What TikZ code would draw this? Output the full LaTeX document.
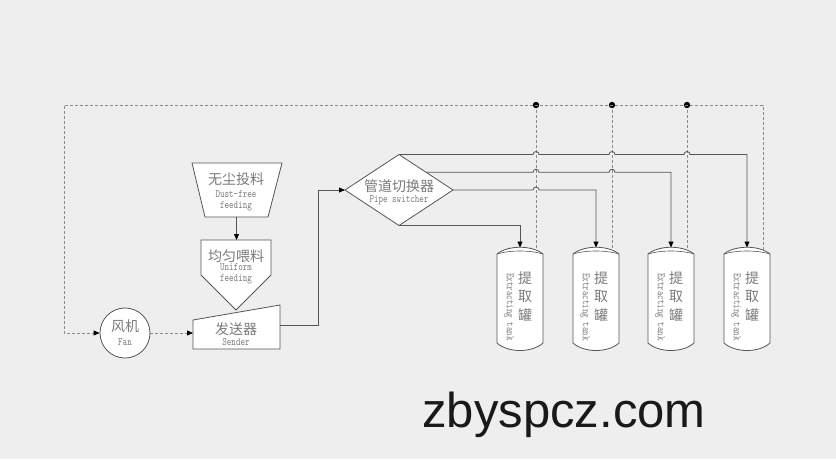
\documentclass[tikz,border=0pt]{standalone}
\usepackage{fontspec}
\usepackage{graphicx}
\newfontfamily\cjk{Noto Sans CJK SC}
\newfontfamily\enmono{lmmono10-regular.otf}
\setsansfont{Liberation Sans}
\usetikzlibrary{arrows.meta,shapes.geometric}
\definecolor{bgfill}{HTML}{EEEEEE}
\definecolor{linegray}{HTML}{555555}
\definecolor{airgray}{HTML}{8A8A8A}
\definecolor{textgray}{HTML}{7A7A7A}
\newcommand{\tall}[1]{\scalebox{1}[1.3]{#1}}
\tikzset{
	unitbox/.style = {draw=linegray, fill=white, line width=0.8pt},
	pipe/.style = {draw=linegray, line width=0.8pt, ->},
	air/.style = {draw=airgray, line width=0.8pt, dash pattern=on 3pt off 2pt},
	cn/.style = {text=textgray, font=\cjk\fontsize{14}{16}\selectfont, inner sep=0pt},
	en/.style = {text=textgray, font=\enmono\fontsize{8.6}{10.5}\selectfont, inner sep=0pt, align=center},
}
\begin{document}
\begin{tikzpicture}[x=1pt, y=-1pt, >={Triangle[length=6pt, width=5pt, color=black]}]
		\fill[bgfill] (0,0) rectangle (836,459);
		\useasboundingbox (0,0) rectangle (836,459);
		% feeding line
		\draw[unitbox] (192,163) -- (282,163) -- (268,217) -- (205,217) -- cycle;
		\coordinate (dust-s) at (236.5,217);
		\draw[unitbox] (201,240) -- (271,240) -- (271,275) -- (236,310) -- (201,275) -- cycle;
		\coordinate (unif-n) at (236.5,240);
		\draw[unitbox] (193,320) -- (280,305) -- (280,349) -- (193,349) -- cycle;
		\coordinate (snd-w) at (193,333);
		\coordinate (snd-e) at (280,325);
		\coordinate (riser) at (318,325);
		\node[circle, unitbox, minimum size=50, inner sep=0pt] (fan) at (125,333) {};
		\node[diamond, unitbox, minimum width=108, minimum height=71, inner sep=0pt, outer sep=0pt] (sw) at (399,190) {};
		\coordinate (loop-corner) at (64,105);
		% tanks
		\foreach \i/\cx in {1/520, 2/596, 3/671, 4/747}{
			\draw[unitbox] (\cx-23,254) .. controls (\cx-12,245) and (\cx+12,245) .. (\cx+23,254) -- (\cx+23,343)
				.. controls (\cx+12,353) and (\cx-12,353) .. (\cx-23,343) -- cycle;
			\draw[linegray, line width=0.6pt] (\cx-23,254) .. controls (\cx-10,250) and (\cx+10,250) .. (\cx+23,254);
			\coordinate (tank\i-in) at (\cx,247.5);
			\coordinate (tank\i-air) at (\cx+16,250);
			\coordinate (air\i) at (\cx+16,105);
			\node[cn, align=center, font=\cjk\fontsize{14}{18.5}\selectfont] (tank\i-cn) at (\cx+5,296.5) {提\\取\\罐};
			\node[en, rotate=-90] (tank\i-en) at (\cx-11,307) {\tall{Extracting tank}};
		}
		% air loop
		\foreach \i in {1,2,3}{
			\draw[air] (air\i) -- (tank\i-air);
			\fill (air\i) circle (3.2);
		}
		\draw[air, ->] (tank4-air) -- (air4) -- (loop-corner) |- (fan.west);
		\draw[air, ->] (fan.east) -- (snd-w);
		% material pipes
		\draw[pipe] (dust-s) -- (unif-n);
		\draw[pipe] (snd-e) -- (riser) |- (sw.west);
		\draw[pipe] (sw.north) -- ++(134,0) arc[start angle=180, end angle=360, radius=3] -- ++(70,0)
			arc[start angle=180, end angle=360, radius=3] -- ++(69,0) arc[start angle=180, end angle=360, radius=3]
			-- (sw.north -| tank4-in) -- (tank4-in);
		\draw[pipe] (sw.north east) -- ++(107,0) arc[start angle=180, end angle=360, radius=3] -- ++(70,0)
			arc[start angle=180, end angle=360, radius=3] -- (sw.north east -| tank3-in) -- (tank3-in);
		\draw[pipe] (sw.east) -- ++(80,0) arc[start angle=180, end angle=360, radius=3] -- (sw.east -| tank2-in) -- (tank2-in);
		\draw[pipe] (sw.south) -| (tank1-in);
		% labels
		\node[cn] (dust-cn) at (236,179.5) {无尘投料};
		\node[en] (dust-en) at (236,201) {\tall{Dust-free}\\\tall{feeding}};
		\node[cn] (unif-cn) at (236,256) {均匀喂料};
		\node[en] (unif-en) at (236,274) {\tall{Uniform}\\\tall{feeding}};
		\node[cn] (snd-cn) at (236,329) {发送器};
		\node[en] (snd-en) at (236,342) {\tall{Sender}};
		\node[cn] (fan-cn) at (125,326) {风机};
		\node[en] (fan-en) at (125,342) {\tall{Fan}};
		\node[cn] (sw-cn) at (399,186) {管道切换器};
		\node[en] (sw-en) at (399,200.5) {\tall{Pipe switcher}};
		\node[font=\sffamily\fontsize{49}{49}\selectfont, text=black!90, anchor=base] (site) at (564,427) {zbyspcz.com};
	\end{tikzpicture}
\end{document}
